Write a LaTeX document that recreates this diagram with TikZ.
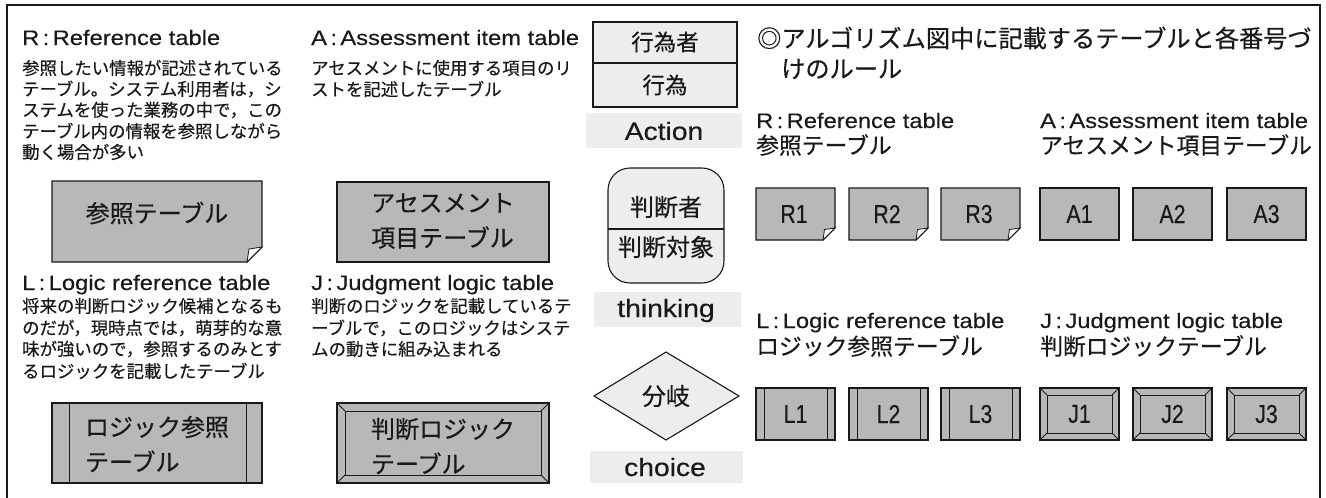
\documentclass[tikz,border=0pt]{standalone}
\usepackage{fontspec}
\usepackage{graphicx}
\setmainfont[FakeBold=0.3]{Liberation Sans}
\newfontfamily\jp[FakeBold=0.4]{Noto Sans CJK JP}
\newcommand\Lt[1]{\scalebox{1.13}[1]{#1}}
\newcommand\Nr[1]{\scalebox{0.82}[1]{#1}}
\definecolor{shade}{gray}{0.72}
\definecolor{light}{gray}{0.93}
\definecolor{ink}{gray}{0.1}
\begin{document}
\begin{tikzpicture}[x=1pt,y=-1pt,
  every node/.style={inner sep=0pt, text=ink},
  hd/.style={font=\fontsize{21}{25}\selectfont, anchor=base west},
  para/.style={font=\jp\fontsize{17.4}{21}\selectfont, anchor=west},
  sub/.style={font=\jp\fontsize{22.8}{27}\selectfont, anchor=west},
  ttl/.style={font=\jp\fontsize{24.2}{28}\selectfont, anchor=west},
  big/.style={font=\jp\fontsize{24}{35}\selectfont, align=left},
  mid/.style={font=\jp\fontsize{22.5}{26}\selectfont},
  eng/.style={font=\fontsize{25}{30}\selectfont},
  boxlbl/.style={font=\fontsize{26}{30}\selectfont},
  outline/.style={draw=ink, line width=1.1pt},
  thin/.style={draw=ink, line width=0.8pt}]
\useasboundingbox (0,0) rectangle (1326,498);
% frame
\draw[outline, line width=1.2pt] (7,498) -- (7,5) -- (1320,5) -- (1320,498);

% ---------- left column: R ----------
\node[hd] (hR) at (22,45) {\Lt{R\hspace{3pt}:\hspace{3pt}Reference table}};
\node[para] (pR1) at (22,68)  {参照したい情報が記述されている};
\node[para] (pR2) at (22,89)  {テーブル。システム利用者は，シ};
\node[para] (pR3) at (22,110) {ステムを使った業務の中で，この};
\node[para] (pR4) at (22,131) {テーブル内の情報を参照しながら};
\node[para] (pR5) at (22,152) {動く場合が多い};
\filldraw[outline, fill=shade] (52,181) -- (262,181) -- (262,247) -- (247,262) -- (52,262) -- cycle;
\filldraw[thin, fill=white] (247,262) -- (249,249) -- (262,247) -- cycle;
\node[big] (bR) at (157,213) {参照テーブル};

% ---------- A ----------
\node[hd] (hA) at (311,45) {\Lt{A\hspace{3pt}:\hspace{3pt}Assessment item table}};
\node[para] (pA1) at (311,68) {アセスメントに使用する項目のリ};
\node[para] (pA2) at (311,89) {ストを記述したテーブル};
\filldraw[outline, fill=shade] (337,182) rectangle (549,262);
\node[big] (bA) at (443,221) {アセスメント\\項目テーブル};

% ---------- L ----------
\node[hd] (hL) at (22,290) {\Lt{L\hspace{3pt}:\hspace{3pt}Logic reference table}};
\node[para] (pL1) at (22,306) {将来の判断ロジック候補となるも};
\node[para] (pL2) at (22,328) {のだが，現時点では，萌芽的な意};
\node[para] (pL3) at (22,349) {味が強いので，参照するのみとす};
\node[para] (pL4) at (22,371) {るロジックを記載したテーブル};
\filldraw[outline, fill=shade] (52,403) rectangle (262,483);
\draw[thin] (69,403) -- (69,483) (246,403) -- (246,483);
\node[big] (bL) at (157,444) {ロジック参照\\テーブル};

% ---------- J ----------
\node[hd] (hJ) at (311,290) {\Lt{J\hspace{3pt}:\hspace{3pt}Judgment logic table}};
\node[para] (pJ1) at (311,306) {判断のロジックを記載しているテ};
\node[para] (pJ2) at (311,328) {ーブルで，このロジックはシステ};
\node[para] (pJ3) at (311,349) {ムの動きに組み込まれる};
\filldraw[outline, fill=shade] (337,403) rectangle (549,483);
\draw[thin] (345,411) rectangle (541,475);
\draw[thin] (337,403) -- (345,411) (549,403) -- (541,411) (337,483) -- (345,475) (549,483) -- (541,475);
\node[big] (bJ) at (443,446) {判断ロジック\\テーブル};

% ---------- middle column ----------
\filldraw[outline, fill=light] (593,22) rectangle (737,107);
\draw[outline] (593,63) -- (737,63);
\node[mid] (actor) at (665,42) {行為者};
\node[mid] (act) at (665,85) {行為};
\fill[light] (586,113) rectangle (742,148);
\node[eng] (action) at (664,131) {\Lt{Action}};

\filldraw[outline, fill=light, rounded corners=22pt] (608,168) rectangle (724,283);
\draw[outline] (608,229) -- (724,229);
\node[mid, font=\jp\fontsize{24}{28}\selectfont] (judge) at (666,207) {判断者};
\node[mid, font=\jp\fontsize{24}{28}\selectfont] (target) at (666,247) {判断対象};
\fill[light] (594,292) rectangle (741,327);
\node[eng, anchor=base] (think) at (666,317) {\Lt{thinking}};

\filldraw[outline, fill=light] (594,396) -- (666,352) -- (739,396) -- (666,440) -- cycle;
\node[mid, font=\jp\fontsize{24}{28}\selectfont] (branch) at (666,396) {分岐};
\fill[light] (590,451) rectangle (743,483);
\node[eng, anchor=base] (choice) at (665,476) {\Lt{choice}};

% ---------- right section ----------
\node[ttl] (title1) at (757,38) {◎アルゴリズム図中に記載するテーブルと各番号づ};
\node[ttl] (title2) at (781,69) {けのルール};

\node[hd] (rhR) at (756,128) {\Lt{R\hspace{3pt}:\hspace{3pt}Reference table}};
\node[sub] (rsR) at (756,145) {参照テーブル};
\node[hd] (rhA) at (1040,128) {\Lt{A\hspace{3pt}:\hspace{3pt}Assessment item table}};
\node[sub] (rsA) at (1040,145) {アセスメント項目テーブル};
\node[hd] (rhL) at (756,328) {\Lt{L\hspace{3pt}:\hspace{3pt}Logic reference table}};
\node[sub] (rsL) at (756,346) {ロジック参照テーブル};
\node[hd] (rhJ) at (1040,328) {\Lt{J\hspace{3pt}:\hspace{3pt}Judgment logic table}};
\node[sub] (rsJ) at (1040,346) {判断ロジックテーブル};

\foreach \x/\t in {756/R1,849/R2,941/R3} {
  \filldraw[outline, fill=shade] (\x,188) -- (\x+79,188) -- (\x+79,228) -- (\x+67,240) -- (\x,240) -- cycle;
  \filldraw[thin, fill=white] (\x+67,240) -- (\x+68.5,229.5) -- (\x+79,228) -- cycle;
  \node[boxlbl] (box\t) at (\x+38,214) {\Nr{\t}};
}
\foreach \x/\t in {1040/A1,1133/A2,1227/A3} {
  \filldraw[outline, fill=shade] (\x,188) rectangle (\x+79,240);
  \node[boxlbl] (box\t) at (\x+39.5,214) {\Nr{\t}};
}
\foreach \x/\t in {756/L1,849/L2,941/L3} {
  \filldraw[outline, fill=shade] (\x,388) rectangle (\x+79,440);
  \draw[thin] (\x+8,388) -- (\x+8,440) (\x+71,388) -- (\x+71,440);
  \node[boxlbl] (box\t) at (\x+39.5,414) {\Nr{\t}};
}
\foreach \x/\t in {1040/J1,1133/J2,1227/J3} {
  \filldraw[outline, fill=shade] (\x,388) rectangle (\x+79,440);
  \draw[thin] (\x+7,395) rectangle (\x+72,433);
  \draw[thin] (\x,388) -- (\x+7,395) (\x+79,388) -- (\x+72,395) (\x,440) -- (\x+7,433) (\x+79,440) -- (\x+72,433);
  \node[boxlbl] (box\t) at (\x+39.5,414) {\Nr{\t}};
}
\end{tikzpicture}
\end{document}
